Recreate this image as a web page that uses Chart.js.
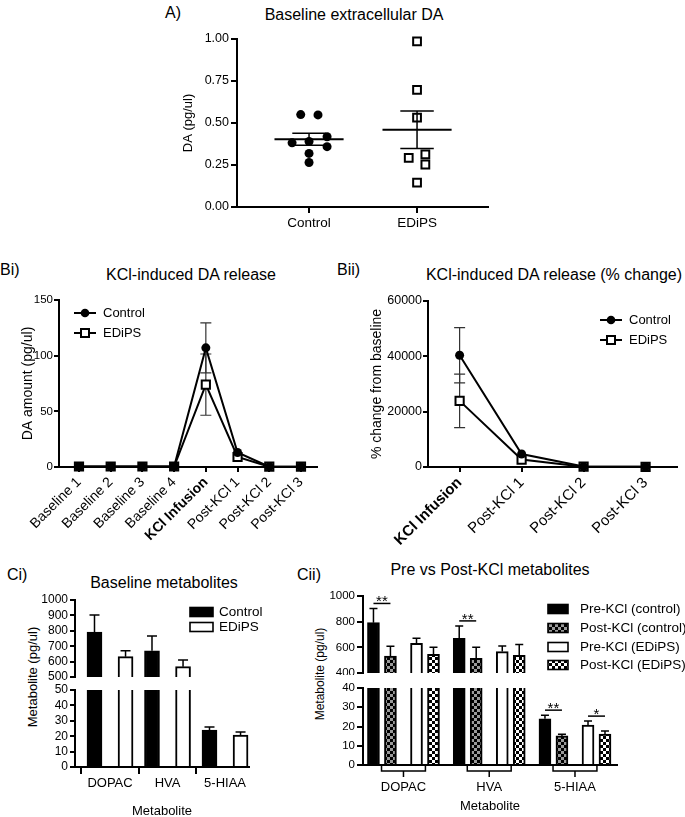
<!DOCTYPE html>
<html>
<head>
<meta charset="utf-8">
<script src="https://cdn.jsdelivr.net/npm/chart.js@4.4.1/dist/chart.umd.min.js"></script>
<style>
  html, body { margin: 0; padding: 0; background: #fff; }
  body { width: 685px; height: 817px; position: relative; overflow: hidden; font-family: "Liberation Sans", Arial, sans-serif; color: #000; }
  canvas { position: absolute; }
  .lbl { position: absolute; line-height: 1; white-space: nowrap; font-size: 16px; }
  .ttl { position: absolute; line-height: 1; white-space: nowrap; font-size: 16px; transform: translateX(-50%); }
  .ytl { position: absolute; line-height: 1; white-space: nowrap; transform: translate(-50%, -50%) rotate(-90deg); }
</style>
</head>
<body>
<div class="lbl" style="left:165px;top:5px">A)</div>
<div class="ttl" style="left:354px;top:7px">Baseline extracellular DA</div>
<div class="lbl" style="left:0px;top:262px">Bi)</div>
<div class="ttl" style="left:191px;top:267px">KCl-induced DA release</div>
<div class="lbl" style="left:337px;top:262px">Bii)</div>
<div class="ttl" style="left:554px;top:267px">KCl-induced DA release (% change)</div>
<div class="lbl" style="left:7px;top:567px">Ci)</div>
<div class="ttl" style="left:164px;top:575px">Baseline metabolites</div>
<div class="lbl" style="left:297px;top:567px">Cii)</div>
<div class="ttl" style="left:490px;top:562px">Pre vs Post-KCl metabolites</div>
<div class="ytl" style="left:32px;top:677px;font-size:13px">Metabolite (pg/ul)</div>
<div class="ytl" style="left:320px;top:674px;font-size:12px">Metabolite (pg/ul)</div>

<canvas id="chartA"></canvas>
<canvas id="chartBi"></canvas>
<canvas id="chartBii"></canvas>
<canvas id="chartCiTop"></canvas>
<canvas id="chartCiBottom"></canvas>
<canvas id="chartCiiTop"></canvas>
<canvas id="chartCiiBottom"></canvas>

<script>
const FONT = '"Liberation Sans", Arial, sans-serif';
Chart.defaults.font.family = FONT;
Chart.defaults.color = "#000";
Chart.defaults.animation = false;

// A) baseline DA, one value per animal
const aGroups = ["Control", "EDiPS"];
const aControl = [0.55, 0.548, 0.418, 0.382, 0.39, 0.359, 0.319, 0.265];
const aEdips = [0.986, 0.697, 0.532, 0.293, 0.313, 0.253, 0.145];
// beeswarm spread (in category units)
const aControlJitter = [-0.077, 0.083, 0.167, -0.157, 0, 0.167, 0, 0];
const aEdipsJitter = [0, 0, 0, -0.077, 0.077, 0.077, 0];

// Bi) DA amount per sample
const bLabels = ["Baseline 1", "Baseline 2", "Baseline 3", "Baseline 4", "KCl Infusion", "Post-KCl 1", "Post-KCl 2", "Post-KCl 3"];
const bControl = [0.4, 0.4, 0.4, 0.4, 107, 13, 0.3, 0.3];
const bControlSem = [0.05, 0.05, 0.05, 0.05, 22.5, 1.5, 0.05, 0.05];
const bEdips = [0.46, 0.46, 0.46, 0.46, 74, 9, 0.3, 0.3];
const bEdipsSem = [0.1, 0.1, 0.1, 0.1, 27.5, 1.2, 0.05, 0.05];

// Bii) % change from baseline
const biiLabels = ["KCl Infusion", "Post-KCl 1", "Post-KCl 2", "Post-KCl 3"];
const biiControl = [40400, 4700, 150, 80];
const biiControlSem = [10000, 700, 60, 30];
const biiEdips = [23900, 2700, 100, 60];
const biiEdipsSem = [9700, 600, 40, 20];

// C) metabolites
const metabolites = ["DOPAC", "HVA", "5-HIAA"];
const preControl = [792, 670, 24];
const preControlSem = [111, 97, 1.9];
const postControl = [531, 515, 15.1];
const postControlSem = [77, 85, 0.9];
const preEdips = [632, 567, 20.8];
const preEdipsSem = [38, 43, 2.0];
const postEdips = [546, 538, 16];
const postEdipsSem = [54, 85, 1.6];

// significance marks in Cii: pair 0 = control pre/post, pair 1 = EDiPS pre/post
const ciiSig = [
  { group: 0, pair: 0, text: "**" },
  { group: 1, pair: 0, text: "**" },
  { group: 2, pair: 0, text: "**" },
  { group: 2, pair: 1, text: "*" },
];

// ---------- helpers
function makeCanvas(id, box) {
  const c = document.getElementById(id);
  c.width = box.w;
  c.height = box.h;
  c.style.left = box.x + "px";
  c.style.top = box.y + "px";
  return c;
}

function pad(box, area, xHidden) {
  return {
    top: area.top - box.y,
    left: 0,
    right: box.x + box.w - area.right,
    bottom: xHidden ? box.y + box.h - area.bottom : 0,
  };
}

function fitW(w) {
  return (s) => {
    s.width = w;
    s.paddingLeft = s.paddingRight = s.paddingTop = s.paddingBottom = 0;
  };
}

function fitH(h) {
  return (s) => {
    s.height = h;
    s.paddingLeft = s.paddingRight = s.paddingTop = s.paddingBottom = 0;
  };
}

const axisBorder = { display: true, color: "#000", width: 2 };

function gridTicks(len) {
  return { display: true, drawOnChartArea: false, drawTicks: true, tickLength: len, color: "#000", lineWidth: 2 };
}

function checker(a, b, cell) {
  const cv = document.createElement("canvas");
  cv.width = cv.height = cell * 2;
  const g = cv.getContext("2d");
  g.fillStyle = a;
  g.fillRect(0, 0, cell * 2, cell * 2);
  g.fillStyle = b;
  g.fillRect(0, 0, cell, cell);
  g.fillRect(cell, cell, cell, cell);
  return g.createPattern(cv, "repeat");
}

const grayCheck = checker("#000", "#9a9a9a", 3);
const whiteCheck = checker("#000", "#fff", 3);

// ---------- plugins
const meanSemPlugin = {
  id: "meanSem",
  afterDatasetsDraw(chart) {
    const { ctx, scales: { x, y } } = chart;
    ctx.save();
    ctx.strokeStyle = "#000";
    chart.data.datasets.forEach((ds) => {
      const vals = ds.data.map((p) => p.y);
      const n = vals.length;
      const mean = vals.reduce((a, b) => a + b, 0) / n;
      const sd = Math.sqrt(vals.reduce((a, b) => a + (b - mean) ** 2, 0) / (n - 1));
      const sem = sd / Math.sqrt(n);
      const c = ds.center;
      const ym = y.getPixelForValue(mean);
      const yt = y.getPixelForValue(mean + sem);
      const yb = y.getPixelForValue(mean - sem);
      ctx.lineWidth = 2;
      ctx.beginPath();
      ctx.moveTo(x.getPixelForValue(c - 0.32), ym);
      ctx.lineTo(x.getPixelForValue(c + 0.32), ym);
      ctx.stroke();
      const cl = x.getPixelForValue(c - 0.155);
      const cr = x.getPixelForValue(c + 0.155);
      const cx = x.getPixelForValue(c);
      ctx.lineWidth = 1.5;
      ctx.beginPath();
      ctx.moveTo(cx, yt);
      ctx.lineTo(cx, yb);
      ctx.moveTo(cl, yt);
      ctx.lineTo(cr, yt);
      ctx.moveTo(cl, yb);
      ctx.lineTo(cr, yb);
      ctx.stroke();
    });
    ctx.restore();
  },
};

const lineErrPlugin = {
  id: "lineErr",
  beforeDatasetsDraw(chart) {
    const { ctx, scales: { y } } = chart;
    ctx.save();
    ctx.strokeStyle = "#333";
    ctx.lineWidth = 1.2;
    chart.data.datasets.forEach((ds, di) => {
      const meta = chart.getDatasetMeta(di);
      meta.data.forEach((pt, i) => {
        const v = ds.data[i].y;
        const e = ds.errors[i];
        const yt = y.getPixelForValue(v + e);
        const yb = y.getPixelForValue(Math.max(v - e, y.min));
        if (yb - yt < 12) return;
        const h = 5.5;
        ctx.beginPath();
        ctx.moveTo(pt.x, yt);
        ctx.lineTo(pt.x, yb);
        ctx.moveTo(pt.x - h, yt);
        ctx.lineTo(pt.x + h, yt);
        ctx.moveTo(pt.x - h, yb);
        ctx.lineTo(pt.x + h, yb);
        ctx.stroke();
      });
    });
    ctx.restore();
  },
};

function barErrPlugin(capHalf) {
  return {
    id: "barErr",
    afterDatasetsDraw(chart) {
      const { ctx, chartArea, scales: { y } } = chart;
      ctx.save();
      ctx.beginPath();
      ctx.rect(chartArea.left, chartArea.top - 1, chartArea.right - chartArea.left, chartArea.bottom - chartArea.top + 1);
      ctx.clip();
      ctx.strokeStyle = "#000";
      ctx.lineWidth = 1.5;
      chart.data.datasets.forEach((ds, di) => {
        const meta = chart.getDatasetMeta(di);
        meta.data.forEach((bar, i) => {
          const v = ds.data[i].y;
          const top = v + ds.errors[i];
          if (top > y.max || top < y.min) return;
          const yv = y.getPixelForValue(Math.max(v, y.min));
          const yt = y.getPixelForValue(top);
          ctx.beginPath();
          ctx.moveTo(bar.x, yv);
          ctx.lineTo(bar.x, yt);
          ctx.moveTo(bar.x - capHalf, yt);
          ctx.lineTo(bar.x + capHalf, yt);
          ctx.stroke();
        });
      });
      ctx.restore();
    },
  };
}

const sigPlugin = {
  id: "sig",
  afterDatasetsDraw(chart) {
    const { ctx, scales: { x, y } } = chart;
    ctx.save();
    ctx.strokeStyle = "#000";
    ctx.fillStyle = "#000";
    ctx.lineWidth = 1.5;
    ctx.font = "15px " + FONT;
    ctx.textAlign = "center";
    ctx.textBaseline = "alphabetic";
    ciiSig.forEach((s) => {
      const a = chart.data.datasets[s.pair * 2];
      const b = chart.data.datasets[s.pair * 2 + 1];
      const ta = a.data[s.group].y + a.errors[s.group];
      const tb = b.data[s.group].y + b.errors[s.group];
      if (Math.max(ta, tb) > y.max || Math.min(ta, tb) < y.min) return;
      const yp = y.getPixelForValue(Math.max(ta, tb)) - 5;
      const x1 = x.getPixelForValue(a.data[s.group].x);
      const x2 = x.getPixelForValue(b.data[s.group].x);
      ctx.beginPath();
      ctx.moveTo(x1, yp);
      ctx.lineTo(x2, yp);
      ctx.stroke();
      ctx.fillText(s.text, (x1 + x2) / 2, yp + 3);
    });
    ctx.restore();
  },
};

const bracketPlugin = {
  id: "brackets",
  afterDraw(chart) {
    const { ctx, chartArea, scales: { x } } = chart;
    const y0 = chartArea.bottom + 1;
    const y1 = y0 + 5;
    const y2 = y1 + 6;
    ctx.save();
    ctx.strokeStyle = "#000";
    ctx.lineWidth = 1.5;
    metabolites.forEach((m, i) => {
      const l = x.getPixelForValue(i - 0.256);
      const r = x.getPixelForValue(i + 0.256);
      const c = x.getPixelForValue(i);
      ctx.beginPath();
      ctx.moveTo(l, y0);
      ctx.lineTo(l, y1);
      ctx.lineTo(r, y1);
      ctx.lineTo(r, y0);
      ctx.moveTo(c, y1);
      ctx.lineTo(c, y2);
      ctx.stroke();
    });
    ctx.restore();
  },
};

// legend drawn inside the plot, positions in page pixels
function legendPlugin(box, size, items) {
  return {
    id: "insetLegend",
    afterDraw(chart) {
      const ctx = chart.ctx;
      ctx.save();
      ctx.font = size + "px " + FONT;
      ctx.textBaseline = "middle";
      ctx.textAlign = "left";
      ctx.strokeStyle = "#000";
      items.forEach((it) => {
        const x = it.x - box.x;
        const y = it.y - box.y;
        if (it.kind === "line") {
          ctx.lineWidth = 2;
          ctx.beginPath();
          ctx.moveTo(x, y);
          ctx.lineTo(x + 22, y);
          ctx.stroke();
          const mx = x + 11;
          if (it.marker === "circle") {
            ctx.fillStyle = "#000";
            ctx.beginPath();
            ctx.arc(mx, y, 4.3, 0, Math.PI * 2);
            ctx.fill();
          } else {
            ctx.fillStyle = "#fff";
            ctx.fillRect(mx - 4, y - 4, 8, 8);
            ctx.strokeRect(mx - 4, y - 4, 8, 8);
          }
          ctx.fillStyle = "#000";
          ctx.fillText(it.label, x + 29, y);
        } else {
          ctx.fillStyle = it.fill;
          ctx.fillRect(x, y - it.h / 2, it.w, it.h);
          ctx.lineWidth = 1.6;
          ctx.strokeRect(x, y - it.h / 2, it.w, it.h);
          ctx.fillStyle = "#000";
          ctx.fillText(it.label, x + it.tx, y);
        }
      });
      ctx.restore();
    },
  };
}

const baseOptions = {
  responsive: false,
  animation: false,
  events: [],
};

// ---------- A
const boxA = { x: 130, y: 25, w: 375, h: 220 };
const areaA = { left: 237, top: 39, right: 488, bottom: 207 };
new Chart(makeCanvas("chartA", boxA), {
  type: "scatter",
  data: {
    datasets: [
      {
        label: "Control",
        center: 1,
        data: aControl.map((v, i) => ({ x: 1 + aControlJitter[i], y: v })),
        pointStyle: "circle",
        pointRadius: 4.5,
        backgroundColor: "#000",
        borderColor: "#000",
        borderWidth: 0,
        clip: false,
      },
      {
        label: "EDiPS",
        center: 2,
        data: aEdips.map((v, i) => ({ x: 2 + aEdipsJitter[i], y: v })),
        pointStyle: "rect",
        pointRadius: 5.5,
        backgroundColor: "#fff",
        borderColor: "#000",
        borderWidth: 2,
        clip: false,
      },
    ],
  },
  options: {
    ...baseOptions,
    layout: { padding: pad(boxA, areaA) },
    plugins: { legend: { display: false }, tooltip: { enabled: false } },
    scales: {
      x: {
        type: "linear",
        min: 0.333,
        max: 2.657,
        afterFit: fitH(boxA.y + boxA.h - areaA.bottom),
        afterBuildTicks: (s) => { s.ticks = [{ value: 1 }, { value: 2 }]; },
        ticks: { callback: (v) => aGroups[Math.round(v) - 1], font: { size: 13.5 }, padding: 2, autoSkip: false, maxRotation: 0 },
        grid: gridTicks(6),
        border: axisBorder,
      },
      y: {
        min: 0,
        max: 1,
        afterFit: fitW(areaA.left - boxA.x),
        ticks: { stepSize: 0.25, callback: (v) => v.toFixed(2), font: { size: 12.5 }, padding: 2, autoSkip: false },
        grid: gridTicks(6),
        border: axisBorder,
        title: { display: true, text: "DA (pg/ul)", font: { size: 13 }, padding: { top: 51, bottom: 0 } },
      },
    },
  },
  plugins: [meanSemPlugin],
});

// ---------- Bi
const boxBi = { x: 0, y: 290, w: 330, h: 255 };
const areaBi = { left: 59, top: 300, right: 317, bottom: 467 };
new Chart(makeCanvas("chartBi", boxBi), {
  type: "line",
  data: {
    datasets: [
      {
        label: "Control",
        data: bControl.map((v, i) => ({ x: i, y: v })),
        errors: bControlSem,
        borderColor: "#000",
        borderWidth: 2,
        pointStyle: "circle",
        pointRadius: 4.5,
        pointBackgroundColor: "#000",
        pointBorderColor: "#000",
        pointBorderWidth: 0,
        tension: 0,
        clip: false,
      },
      {
        label: "EDiPS",
        data: bEdips.map((v, i) => ({ x: i, y: v })),
        errors: bEdipsSem,
        borderColor: "#000",
        borderWidth: 2,
        pointStyle: "rect",
        pointRadius: 5.8,
        pointBackgroundColor: "#fff",
        pointBorderColor: "#000",
        pointBorderWidth: 2,
        tension: 0,
        clip: false,
      },
    ],
  },
  options: {
    ...baseOptions,
    layout: { padding: pad(boxBi, areaBi) },
    plugins: { legend: { display: false }, tooltip: { enabled: false } },
    scales: {
      x: {
        type: "linear",
        min: -0.63,
        max: 7.505,
        afterFit: fitH(boxBi.y + boxBi.h - areaBi.bottom),
        afterBuildTicks: (s) => { s.ticks = bLabels.map((l, i) => ({ value: i })); },
        ticks: {
          callback: (v) => bLabels[Math.round(v)],
          font: (ctx) => ({ size: 14, weight: ctx.tick && ctx.tick.value === 4 ? "bold" : "normal" }),
          minRotation: 45,
          maxRotation: 45,
          padding: 2,
          autoSkip: false,
        },
        grid: gridTicks(5),
        border: axisBorder,
      },
      y: {
        min: 0,
        max: 150,
        afterFit: fitW(areaBi.left - boxBi.x),
        ticks: { stepSize: 50, callback: (v) => String(v), font: { size: 11.5 }, padding: 1, autoSkip: false },
        grid: gridTicks(5),
        border: axisBorder,
        title: { display: true, text: "DA amount (pg/ul)", font: { size: 14 }, padding: { top: 20, bottom: 0 } },
      },
    },
  },
  plugins: [
    lineErrPlugin,
    legendPlugin(boxBi, 13, [
      { kind: "line", marker: "circle", x: 74, y: 313, label: "Control" },
      { kind: "line", marker: "rect", x: 74, y: 333, label: "EDiPS" },
    ]),
  ],
});

// ---------- Bii
const boxBii = { x: 340, y: 290, w: 345, h: 255 };
const areaBii = { left: 428, top: 301, right: 680, bottom: 467 };
new Chart(makeCanvas("chartBii", boxBii), {
  type: "line",
  data: {
    datasets: [
      {
        label: "Control",
        data: biiControl.map((v, i) => ({ x: i, y: v })),
        errors: biiControlSem,
        borderColor: "#000",
        borderWidth: 2,
        pointStyle: "circle",
        pointRadius: 4.5,
        pointBackgroundColor: "#000",
        pointBorderColor: "#000",
        pointBorderWidth: 0,
        tension: 0,
        clip: false,
      },
      {
        label: "EDiPS",
        data: biiEdips.map((v, i) => ({ x: i, y: v })),
        errors: biiEdipsSem,
        borderColor: "#000",
        borderWidth: 2,
        pointStyle: "rect",
        pointRadius: 5.8,
        pointBackgroundColor: "#fff",
        pointBorderColor: "#000",
        pointBorderWidth: 2,
        tension: 0,
        clip: false,
      },
    ],
  },
  options: {
    ...baseOptions,
    layout: { padding: pad(boxBii, areaBii) },
    plugins: { legend: { display: false }, tooltip: { enabled: false } },
    scales: {
      x: {
        type: "linear",
        min: -0.51,
        max: 3.51,
        afterFit: fitH(boxBii.y + boxBii.h - areaBii.bottom),
        afterBuildTicks: (s) => { s.ticks = biiLabels.map((l, i) => ({ value: i })); },
        ticks: {
          callback: (v) => biiLabels[Math.round(v)],
          font: (ctx) => ({ size: 15, weight: ctx.tick && ctx.tick.value === 0 ? "bold" : "normal" }),
          minRotation: 45,
          maxRotation: 45,
          padding: 2,
          autoSkip: false,
        },
        grid: gridTicks(5),
        border: axisBorder,
      },
      y: {
        min: 0,
        max: 60000,
        afterFit: fitW(areaBii.left - boxBii.x),
        ticks: { stepSize: 20000, callback: (v) => String(v), font: { size: 12.5 }, padding: 1, autoSkip: false },
        grid: gridTicks(5),
        border: axisBorder,
        title: { display: true, text: "% change from baseline", font: { size: 14 }, padding: { top: 28.6, bottom: 0 } },
      },
    },
  },
  plugins: [
    lineErrPlugin,
    legendPlugin(boxBii, 13, [
      { kind: "line", marker: "circle", x: 600, y: 320, label: "Control" },
      { kind: "line", marker: "rect", x: 600, y: 340, label: "EDiPS" },
    ]),
  ],
});

// ---------- C (broken y axis = two stacked charts)
function bars(vals, sem, off, fill, w) {
  return {
    data: vals.map((v, i) => ({ x: i + off, y: v })),
    errors: sem,
    backgroundColor: fill,
    borderColor: "#000",
    borderWidth: 2,
    barThickness: w,
    grouped: false,
    clip: 0,
  };
}

function barChart(id, box, area, cfg) {
  const x = {
    type: "linear",
    display: cfg.showX,
    offset: false,
    min: cfg.xMin,
    max: cfg.xMax,
    afterBuildTicks: (s) => { s.ticks = metabolites.map((m, i) => ({ value: i })); },
    ticks: { callback: (v) => metabolites[Math.round(v)], font: { size: 13 }, padding: cfg.tickPad, autoSkip: false, maxRotation: 0 },
    grid: cfg.xTicks ? gridTicks(7) : { display: false, drawTicks: false },
    border: axisBorder,
    title: { display: cfg.showX, text: "Metabolite", font: { size: 13 }, padding: { top: 0, bottom: cfg.titlePad } },
  };
  if (cfg.showX) x.afterFit = fitH(box.y + box.h - area.bottom);
  return new Chart(makeCanvas(id, box), {
    type: "bar",
    data: { datasets: cfg.datasets },
    options: {
      ...baseOptions,
      layout: { padding: pad(box, area, !cfg.showX) },
      plugins: { legend: { display: false }, tooltip: { enabled: false } },
      scales: {
        x: x,
        y: {
          min: cfg.yMin,
          max: cfg.yMax,
          afterFit: fitW(area.left - box.x),
          ticks: { stepSize: cfg.step, callback: (v) => String(v), font: { size: cfg.ySize }, padding: 2, autoSkip: false },
          grid: gridTicks(cfg.yTick),
          border: axisBorder,
        },
      },
    },
    plugins: cfg.plugins,
  });
}

function ciSets() {
  return [
    bars(preControl, preControlSem, -0.27, "#000", 15),
    bars(preEdips, preEdipsSem, 0.27, "#fff", 15),
  ];
}

function ciiSets() {
  return [
    bars(preControl, preControlSem, -0.35, "#000", 12),
    bars(postControl, postControlSem, -0.152, grayCheck, 12),
    bars(preEdips, preEdipsSem, 0.152, "#fff", 12),
    bars(postEdips, postEdipsSem, 0.35, whiteCheck, 12),
  ];
}

const boxCiTop = { x: 0, y: 590, w: 300, h: 90 };
const areaCiTop = { left: 75, top: 600, right: 249, bottom: 677 };
barChart("chartCiTop", boxCiTop, areaCiTop, {
  showX: false, xMin: -0.609, xMax: 2.417, yMin: 500, yMax: 1000, step: 100, ySize: 12, yTick: 5,
  datasets: ciSets(),
  plugins: [
    barErrPlugin(5),
    legendPlugin(boxCiTop, 13.5, [
      { kind: "box", x: 190, y: 612, w: 23, h: 9, tx: 29, fill: "#000", label: "Control" },
      { kind: "box", x: 190, y: 627, w: 23, h: 9, tx: 29, fill: "#fff", label: "EDiPS" },
    ]),
  ],
});

const boxCiBottom = { x: 0, y: 684, w: 300, h: 141 };
const areaCiBottom = { left: 75, top: 690, right: 249, bottom: 767 };
barChart("chartCiBottom", boxCiBottom, areaCiBottom, {
  showX: true, xTicks: true, tickPad: 1.2, titlePad: 6.2,
  xMin: -0.609, xMax: 2.417, yMin: 0, yMax: 50, step: 10, ySize: 12, yTick: 5,
  datasets: ciSets(),
  plugins: [barErrPlugin(5)],
});

const boxCiiTop = { x: 300, y: 585, w: 385, h: 90 };
const areaCiiTop = { left: 363, top: 596, right: 617, bottom: 673 };
barChart("chartCiiTop", boxCiiTop, areaCiiTop, {
  showX: false, xMin: -0.472, xMax: 2.49, yMin: 400, yMax: 1000, step: 200, ySize: 11.5, yTick: 6,
  datasets: ciiSets(),
  plugins: [
    barErrPlugin(4),
    sigPlugin,
    legendPlugin(boxCiiTop, 13.5, [
      { kind: "box", x: 548, y: 609, w: 20, h: 9, tx: 32, fill: "#000", label: "Pre-KCl (control)" },
      { kind: "box", x: 548, y: 628, w: 20, h: 9, tx: 32, fill: grayCheck, label: "Post-KCl (control)" },
      { kind: "box", x: 548, y: 647, w: 20, h: 9, tx: 32, fill: "#fff", label: "Pre-KCl (EDiPS)" },
      { kind: "box", x: 548, y: 665, w: 20, h: 9, tx: 32, fill: whiteCheck, label: "Post-KCl (EDiPS)" },
    ]),
  ],
});

const boxCiiBottom = { x: 300, y: 682, w: 385, h: 143 };
const areaCiiBottom = { left: 363, top: 688, right: 617, bottom: 765 };
barChart("chartCiiBottom", boxCiiBottom, areaCiiBottom, {
  showX: true, xTicks: false, tickPad: 14.2, titlePad: 11.2,
  xMin: -0.472, xMax: 2.49, yMin: 0, yMax: 40, step: 10, ySize: 11.5, yTick: 6,
  datasets: ciiSets(),
  plugins: [barErrPlugin(4), sigPlugin, bracketPlugin],
});
</script>
</body>
</html>
